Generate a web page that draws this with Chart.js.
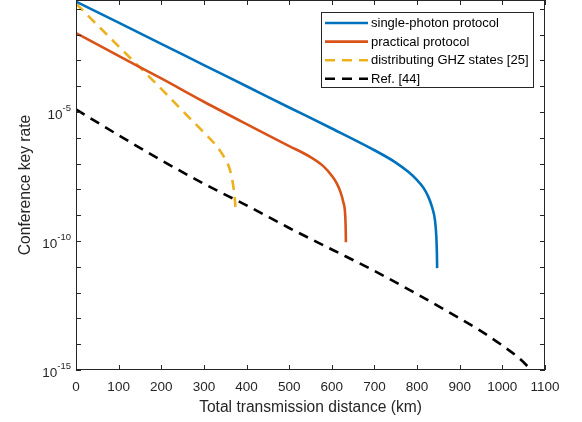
<!DOCTYPE html>
<html>
<head>
<meta charset="utf-8">
<script src="https://cdn.jsdelivr.net/npm/chart.js@4.4.1/dist/chart.umd.min.js"></script>
<style>
  html, body { margin: 0; padding: 0; background: #fff; }
  #wrap { width: 582px; height: 422px; }
</style>
</head>
<body>
<div id="wrap"><canvas id="keyRate" width="582" height="422"></canvas></div>
<script>
// distances (km) and key rates
const singleKm   = [0, 100, 200, 300, 400, 500, 600, 700, 750, 780, 800, 815, 825, 835, 842, 845, 846.5, 847];
const singleRate = [1.9e-1, 2.9e-2, 4.4e-3, 6.6e-4, 1.0e-4, 1.5e-5, 2.3e-6, 3.3e-7, 1.1e-7, 4.7e-8, 2.3e-8, 1.15e-8, 5.8e-9, 2.1e-9, 6.3e-10, 1.6e-10, 3.2e-11, 8.9e-12];

const practKm   = [0, 100, 200, 300, 400, 500, 550, 580, 600, 611, 620, 627, 631, 632.5, 633];
const practRate = [1.15e-2, 1.5e-3, 2.0e-4, 2.5e-5, 3.4e-6, 4.8e-7, 1.8e-7, 8.0e-8, 3.4e-8, 1.8e-8, 8.2e-9, 3.2e-9, 1.26e-9, 3.2e-10, 8.9e-11];

const ghzKm   = [0, 100, 200, 250, 300, 330, 350, 360, 368, 372, 374.5];
const ghzRate = [1.6e-1, 3.5e-3, 7.9e-5, 1.1e-5, 1.6e-6, 4.7e-7, 1.5e-7, 6.5e-8, 1.7e-8, 5.0e-9, 1.6e-9];

const refKm   = [0, 100, 200, 300, 400, 500, 600, 700, 800, 900, 950, 1000, 1040, 1068];
const refRate = [1.26e-5, 1.26e-6, 1.35e-7, 1.66e-8, 2.4e-9, 3.2e-10, 4.7e-11, 6.9e-12, 8.7e-13, 1.0e-13, 3.2e-14, 8.9e-15, 2.8e-15, 1.0e-15];

const xTicks = [0, 100, 200, 300, 400, 500, 600, 700, 800, 900, 1000, 1100];
const yTicks = [1e-15, 1e-14, 1e-13, 1e-12, 1e-11, 1e-10, 1e-9, 1e-8, 1e-7, 1e-6, 1e-5, 1e-4, 1e-3, 1e-2, 1e-1];
const yLabels = [[1e-15, '-15'], [1e-10, '-10'], [1e-5, '-5']];

const FONT = '"Liberation Sans", Arial, Helvetica, sans-serif';
const AXIS = '#262626';

function pts(xs, ys) {
  return xs.map((x, i) => ({ x: x, y: ys[i] }));
}

// box, inward ticks, 10^n labels and legend, drawn like matlab does
const frame = {
  id: 'frame',
  afterDraw(chart) {
    const ctx = chart.ctx, a = chart.chartArea;
    const x = chart.scales.x, y = chart.scales.y;
    ctx.save();
    ctx.strokeStyle = AXIS;
    ctx.lineWidth = 1;
    ctx.strokeRect(a.left + 0.5, a.top + 0.5, a.right - a.left - 1, a.bottom - a.top - 1);
    ctx.beginPath();
    xTicks.forEach(v => {
      const px = Math.round(x.getPixelForValue(v)) + 0.5;
      ctx.moveTo(px, a.bottom); ctx.lineTo(px, a.bottom - 5);
      ctx.moveTo(px, a.top); ctx.lineTo(px, a.top + 5);
    });
    yTicks.forEach(v => {
      const py = Math.round(y.getPixelForValue(v)) + 0.5;
      ctx.moveTo(a.left, py); ctx.lineTo(a.left + 5, py);
      ctx.moveTo(a.right, py); ctx.lineTo(a.right - 5, py);
    });
    ctx.stroke();

    // y labels with superscripts
    ctx.fillStyle = AXIS;
    ctx.textBaseline = 'middle';
    ctx.textAlign = 'left';
    yLabels.forEach(([v, e]) => {
      const py = y.getPixelForValue(v);
      ctx.font = '9.5px ' + FONT;
      const ew = ctx.measureText(e).width;
      ctx.font = '13.5px ' + FONT;
      const bw = ctx.measureText('10').width;
      const right = a.left - 5;
      ctx.fillText('10', right - ew - bw, py + 3);
      ctx.font = '9.5px ' + FONT;
      ctx.fillText(e, right - ew, py - 4);
    });

    // legend
    const lx = 321, ly = 12, lw = 212, lh = 75;
    ctx.fillStyle = '#fff';
    ctx.fillRect(lx, ly, lw, lh);
    ctx.strokeStyle = AXIS;
    ctx.strokeRect(lx + 0.5, ly + 0.5, lw, lh);
    ctx.font = '13px ' + FONT;
    chart.data.datasets.forEach((ds, i) => {
      const ry = 23 + i * 18.6;
      ctx.strokeStyle = ds.borderColor;
      ctx.lineWidth = ds.borderWidth;
      ctx.setLineDash(ds.borderDash || []);
      ctx.beginPath();
      ctx.moveTo(325, ry); ctx.lineTo(368, ry);
      ctx.stroke();
      ctx.setLineDash([]);
      ctx.fillStyle = '#000';
      ctx.fillText(ds.label, 371, ry + 0.5);
    });
    ctx.restore();
  }
};

new Chart(document.getElementById('keyRate'), {
  type: 'line',
  data: {
    datasets: [
      { label: 'single-photon protocol', data: pts(singleKm, singleRate), borderColor: '#0072BD', borderWidth: 2.6 },
      { label: 'practical protocol', data: pts(practKm, practRate), borderColor: '#D95319', borderWidth: 2.6 },
      { label: 'distributing GHZ states [25]', data: pts(ghzKm, ghzRate), borderColor: '#EDB120', borderWidth: 2.6, borderDash: [10, 7] },
      { label: 'Ref. [44]', data: pts(refKm, refRate), borderColor: '#000000', borderWidth: 2.6, borderDash: [10, 7] }
    ]
  },
  options: {
    responsive: false,
    animation: false,
    events: [],
    layout: { padding: { left: 0, right: 37, top: 0, bottom: 0 } },
    elements: {
      point: { radius: 0 },
      line: { cubicInterpolationMode: 'monotone', fill: false, borderCapStyle: 'butt' }
    },
    plugins: { legend: { display: false }, tooltip: { enabled: false } },
    scales: {
      x: {
        type: 'linear',
        min: 0, max: 1100,
        afterBuildTicks: s => { s.ticks = xTicks.map(v => ({ value: v })); },
        afterFit: s => { s.height = 52; },
        grid: { display: false, drawTicks: false },
        border: { display: false },
        ticks: { color: AXIS, padding: 9, maxRotation: 0, font: { family: FONT, size: 13.5 }, callback: v => String(v) },
        title: { display: true, text: 'Total transmission distance (km)', color: AXIS, padding: { top: 0, bottom: 5 }, font: { family: FONT, size: 15.6 } }
      },
      y: {
        type: 'logarithmic',
        min: 1e-15, max: 0.22,
        afterBuildTicks: s => { s.ticks = yTicks.map(v => ({ value: v })); },
        afterFit: s => { s.width = 76; },
        grid: { display: false },
        border: { display: false },
        ticks: { display: false },
        title: { display: true, text: 'Conference key rate', color: AXIS, padding: { top: 16, bottom: 0 }, font: { family: FONT, size: 15.6 } }
      }
    }
  },
  plugins: [frame]
});
</script>
</body>
</html>
